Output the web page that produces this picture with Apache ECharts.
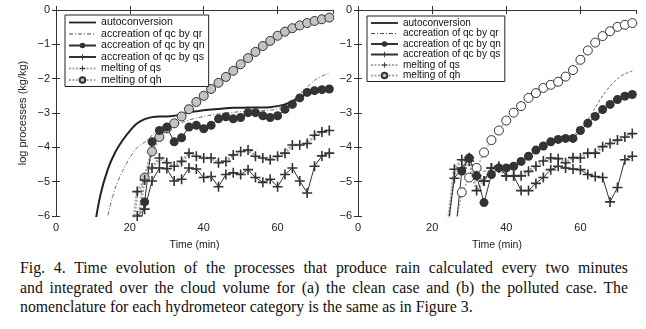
<!DOCTYPE html>
<html>
<head>
<meta charset="utf-8">
<script src="https://cdn.jsdelivr.net/npm/echarts@6/dist/echarts.min.js"></script>
<style>
  html, body { margin: 0; padding: 0; background: #fff; }
  #wrap { position: relative; width: 646px; height: 329px; overflow: hidden; }
  #chart { position: absolute; left: 0; top: 0; width: 646px; height: 256px; }
  #caption { position: absolute; left: 20px; top: 258px; width: 608px;
    font-family: "Liberation Serif", "Times New Roman", serif; font-size: 15.8px;
    line-height: 19.5px; color: #111; }
  #caption div { white-space: nowrap; }
  #caption .jl { text-align: justify; text-align-last: justify; }
</style>
</head>
<body>
<div id="wrap">
  <div id="chart"></div>
  <div id="caption">
    <div class="jl">Fig. 4. Time evolution of the processes that produce rain calculated every two minutes</div>
    <div class="jl">and integrated over the cloud volume for (a) the clean case and (b) the polluted case. The</div>
    <div>nomenclature for each hydrometeor category is the same as in Figure 3.</div>
  </div>
</div>
<script>
// time in minutes, one sample every two minutes
const minutes = [10, 12, 14, 16, 18, 20, 22, 24, 26, 28, 30, 32, 34, 36, 38, 40, 42,
  44, 46, 48, 50, 52, 54, 56, 58, 60, 62, 64, 66, 68, 70, 72, 74];

const names = ["autoconversion", "accreation of qc by qr", "accreation of qc by qn",
  "accreation of qc by qs", "melting of qs", "melting of qh"];

// (a) clean case, log10 of process rate
const cleanAuto = [-6.6, -5.4, -4.65, -4.15, -3.8, -3.52, -3.3, -3.18, -3.12, -3.1, -3.1, -3.08, -3.03,
  -2.98, -2.95, -2.92, -2.9, -2.88, -2.86, -2.85, -2.85, -2.84, -2.84, -2.84, -2.83, -2.8, -2.75,
  -2.65, -2.55, -2.45, -2.4, -2.35, -2.32];
const cleanQr = [null, -7.0, -6.0, -5.2, -4.7, -4.3, -4.0, -3.85, -3.65, -3.5, -3.42, -3.35, -3.28,
  -3.2, -3.15, -3.1, -3.06, -3.03, -3.0, -2.98, -2.96, -2.95, -2.94, -2.93, -2.92, -2.88, -2.8,
  -2.65, -2.45, -2.25, -2.05, -1.92, -1.85];
const cleanQn = [null, null, null, null, null, null, -6.8, -5.59, -3.84, -3.51, -3.41, -3.84, -3.72,
  -3.41, -3.36, -3.46, -3.36, -3.17, -3.11, -3.17, -3.13, -2.99, -2.99, -3.08, -3.13, -3.08, -2.89,
  -2.75, -2.56, -2.4, -2.35, -2.32, -2.3];
const cleanQs = [null, null, null, null, null, null, -6.0, -5.8, -4.98, -4.6, -4.62, -4.98, -4.93,
  -4.6, -4.63, -4.88, -4.85, -5.15, -4.79, -4.74, -4.79, -4.65, -4.88, -5.02, -4.93, -5.15, -4.79,
  -4.6, -4.98, -5.33, -4.55, -4.25, -4.17];
const cleanMeltQs = [null, null, null, null, null, -7.0, -5.29, -4.95, -4.6, -4.31, -4.45, -4.55, -4.41,
  -4.17, -4.26, -4.31, -4.31, -4.45, -4.41, -4.22, -4.12, -4.08, -4.26, -4.31, -4.36, -4.26, -4.17,
  -3.93, -3.93, -3.89, -3.65, -3.55, -3.51];
const cleanMeltQh = [null, null, null, null, null, null, -6.3, -4.88, -4.12, -3.7, -3.45, -3.3, -3.1,
  -2.89, -2.68, -2.5, -2.3, -2.12, -1.95, -1.77, -1.58, -1.4, -1.22, -1.05, -0.9, -0.75, -0.63,
  -0.53, -0.45, -0.38, -0.32, -0.27, -0.22];

// (b) polluted case
const pollQr = [null, null, null, null, null, null, null, -7.0, -4.8, -4.6, -4.5, -4.6, -4.7,
  -4.65, -4.6, -4.55, -4.5, -4.4, -4.25, -4.1, -3.95, -3.85, -3.78, -3.72, -3.65, -3.45, -3.2,
  -2.85, -2.5, -2.22, -2.0, -1.86, -1.78];
const pollQn = [null, null, null, null, null, null, null, null, -6.8, -4.69, -4.31, -4.83, -5.61,
  -4.79, -4.6, -4.6, -4.55, -4.41, -4.26, -4.08, -3.96, -3.84, -3.77, -3.74, -3.74, -3.51, -3.3,
  -3.1, -2.9, -2.75, -2.61, -2.51, -2.46];
const pollQs = [null, null, null, null, null, null, null, -6.5, -4.9, -4.6, -4.3, -4.83, -4.98,
  -4.6, -4.55, -4.83, -4.83, -5.26, -5.26, -5.05, -4.88, -4.65, -4.55, -4.6, -4.63, -4.65, -4.79,
  -4.85, -4.88, -5.59, -5.17, -4.36, -4.26];
const pollMeltQs = [null, null, null, null, null, null, null, -6.5, -4.64, -4.36, -4.4, -5.26, -4.98,
  -4.6, -4.6, -4.83, -4.83, -4.83, -4.7, -4.55, -4.4, -4.31, -4.33, -4.45, -4.3, -4.31, -4.17,
  -4.17, -3.98, -3.89, -3.79, -3.7, -3.6];
const pollMeltQh = [null, null, null, null, null, null, null, null, -6.5, -5.31, -4.88, -4.6, -4.15,
  -3.79, -3.51, -3.22, -2.99, -2.8, -2.56, -2.42, -2.27, -2.18, -2.09, -1.94, -1.75, -1.45, -1.18,
  -0.95, -0.76, -0.62, -0.49, -0.43, -0.38];

const ink = "#333";
const font = "Liberation Sans";
const plus = "path://M0,4.2H10V5.8H0ZM4.2,0H5.8V10H4.2Z";
// legend icons for the two plain lines (the leading moves pin the 27x7 box)
const solidIcon = "path://M0,0M27,7M0,2.6H27V4.4H0Z";
const dashIcon = "path://M0,0M27,7M0,3.1H4V3.9H0ZM6,3.1H7V3.9H6ZM9,3.1H13V3.9H9ZM15,3.1H16V3.9H15ZM18,3.1H22V3.9H18ZM24,3.1H25V3.9H24Z";

function pairs(vals) {
  return minutes.map((m, i) => [m, vals[i]]);
}

function xAxes(g) {
  let base = {
    type: "value", gridIndex: g, min: 0, max: 75, interval: 20,
    axisLine: { show: true, lineStyle: { color: ink, width: 1 } },
    axisTick: { show: true, inside: true, length: 4, lineStyle: { color: ink } },
    splitLine: { show: false },
  };
  return [
    Object.assign({}, base, {
      position: "bottom",
      axisLabel: { fontFamily: font, fontSize: 11, color: "#222", margin: 6, showMaxLabel: false },
      name: "Time (min)", nameLocation: "middle", nameGap: 24,
      nameTextStyle: { fontFamily: font, fontSize: 10.5, color: "#222" },
    }),
    Object.assign({}, base, { position: "top", axisLabel: { show: false } }),
  ];
}

function yAxes(g, withName) {
  let base = {
    type: "value", gridIndex: g, min: -6, max: 0, interval: 1,
    axisLine: { show: true, lineStyle: { color: ink, width: 1 } },
    axisTick: { show: true, inside: true, length: 4, lineStyle: { color: ink } },
    splitLine: { show: false },
  };
  let left = Object.assign({}, base, {
    position: "left",
    axisLabel: {
      fontFamily: font, fontSize: 11, color: "#222", margin: 6,
      formatter: v => String(v).replace("-", "\u2212"),
    },
  });
  if (withName) {
    left.name = "log processes (kg/kg)";
    left.nameLocation = "middle";
    left.nameGap = 28;
    left.nameTextStyle = { fontFamily: font, fontSize: 11, color: "#222" };
  }
  return [left, Object.assign({}, base, { position: "right", axisLabel: { show: false } })];
}

function panelSeries(g, data, qhFill, qhWidth, qrDash) {
  let x = g * 2, y = g * 2;
  let list = [];
  if (data.auto) {
    list.push({
      name: names[0], type: "line", xAxisIndex: x, yAxisIndex: y, data: pairs(data.auto),
      smooth: 0.3, symbol: "none",
      lineStyle: { color: "#222", width: 2 }, itemStyle: { color: "#222" },
    });
  }
  list.push({
    name: names[1], type: "line", xAxisIndex: x, yAxisIndex: y, data: pairs(data.qr),
    smooth: 0.3, symbol: "none",
    lineStyle: { color: "#444", width: 0.8, type: qrDash }, itemStyle: { color: "#444" },
  });
  list.push({
    name: names[5], type: "line", xAxisIndex: x, yAxisIndex: y, data: pairs(data.meltQh),
    symbol: "circle", symbolSize: 9,
    lineStyle: { color: "#aaa", width: qhWidth, type: [2, 1.5] },
    itemStyle: { color: qhFill, borderColor: ink, borderWidth: 1 },
  });
  list.push({
    name: names[4], type: "line", xAxisIndex: x, yAxisIndex: y, data: pairs(data.meltQs),
    symbol: plus, symbolSize: 10,
    lineStyle: { color: "#aaa", width: 3, type: [2, 1.5] },
    itemStyle: { color: ink },
  });
  list.push({
    name: names[3], type: "line", xAxisIndex: x, yAxisIndex: y, data: pairs(data.qs),
    symbol: plus, symbolSize: 10,
    lineStyle: { color: ink, width: 1 }, itemStyle: { color: ink },
  });
  list.push({
    name: names[2], type: "line", xAxisIndex: x, yAxisIndex: y, data: pairs(data.qn),
    symbol: "circle", symbolSize: 9,
    lineStyle: { color: ink, width: 1 }, itemStyle: { color: ink },
  });
  return list;
}

function legendAt(left, top, size) {
  let data = names.map(n => ({ name: n }));
  data[0].icon = solidIcon;
  data[1].icon = dashIcon;
  return {
    left: left, top: top, orient: "vertical", data: data, selectedMode: false,
    backgroundColor: "#fff", borderColor: "#222", borderWidth: 1, borderRadius: 0,
    padding: [2, 4, 1, 3], itemWidth: 27, itemHeight: 7, itemGap: 0.5,
    textStyle: { fontFamily: font, fontSize: size, lineHeight: 9, color: "#111" },
  };
}

let chart = echarts.init(document.getElementById("chart"), null, { renderer: "canvas" });
chart.setOption({
  backgroundColor: "#fff",
  animation: false,
  grid: [
    { left: 56, top: 10, width: 277, height: 211, show: false },
    { left: 358, top: 10, width: 278, height: 211, show: false },
  ],
  xAxis: xAxes(0).concat(xAxes(1)),
  yAxis: yAxes(0, true).concat(yAxes(1, false)),
  legend: [legendAt(65, 15, 10.6), legendAt(367, 16, 10)],
  series: panelSeries(0, {
    auto: cleanAuto, qr: cleanQr, qn: cleanQn, qs: cleanQs, meltQs: cleanMeltQs, meltQh: cleanMeltQh,
  }, "#c4c4c4", 3, [4, 2, 1, 2]).concat(panelSeries(1, {
    qr: pollQr, qn: pollQn, qs: pollQs, meltQs: pollMeltQs, meltQh: pollMeltQh,
  }, "#fff", 1.5, [3, 2])),
});
</script>
</body>
</html>
